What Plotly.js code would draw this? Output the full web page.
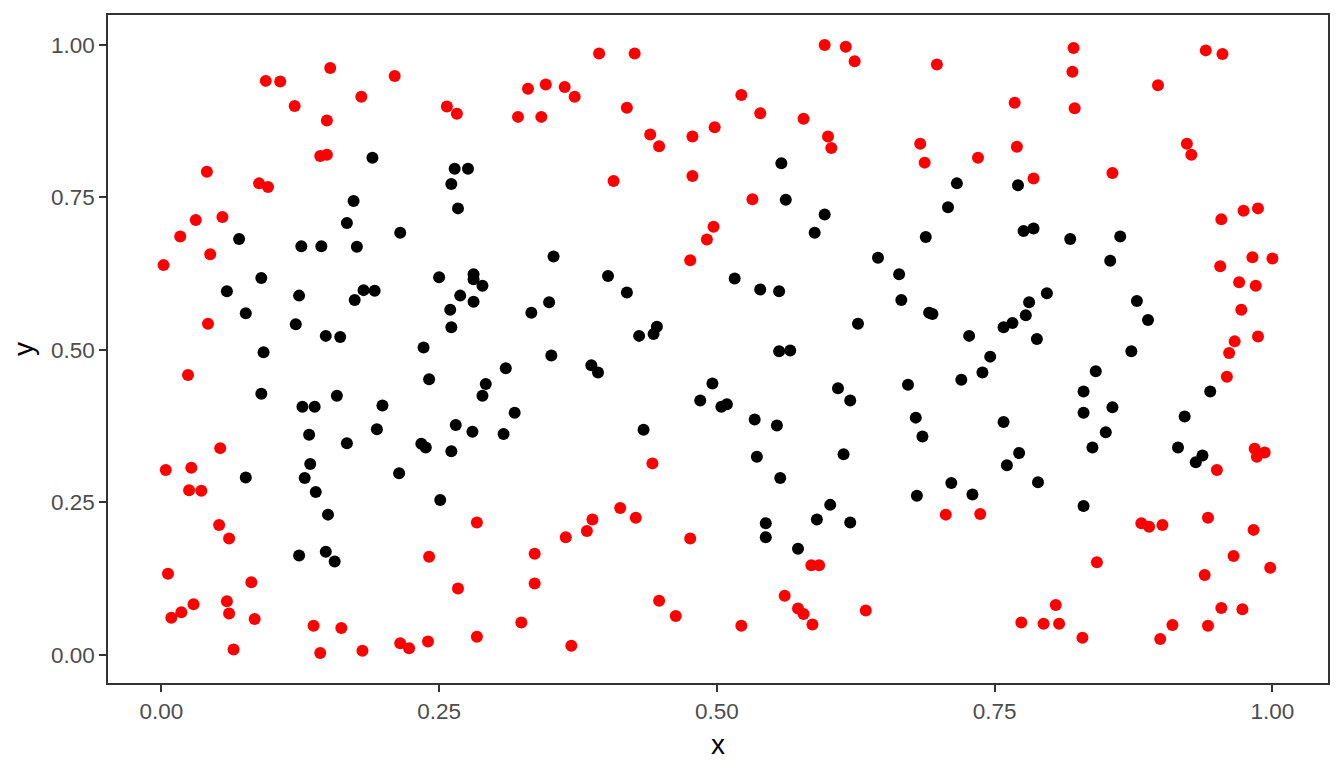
<!DOCTYPE html>
<html>
<head>
<meta charset="utf-8">
<script src="https://cdn.plot.ly/plotly-3.0.1.min.js"></script>
<style>
  html, body { margin: 0; padding: 0; background: #fff; }
  #chart { width: 1344px; height: 768px; }
</style>
</head>
<body>
<div id="chart"></div>
<script>
// points inside the region (black)
const insideX = [
  0.190, 0.173, 0.167, 0.215, 0.070, 0.126, 0.144, 0.176, 0.250, 0.090,
  0.059, 0.124, 0.182, 0.192, 0.174, 0.076, 0.121, 0.148, 0.161, 0.236,
  0.092, 0.241, 0.090, 0.127, 0.138, 0.158, 0.199, 0.133, 0.194, 0.167,
  0.234, 0.238, 0.134, 0.076, 0.129, 0.139, 0.214, 0.251, 0.150, 0.124,
  0.148, 0.156, 0.264, 0.276, 0.261, 0.267, 0.353, 0.281, 0.281, 0.289,
  0.269, 0.281, 0.260, 0.261, 0.402, 0.419, 0.349, 0.333, 0.430, 0.443,
  0.446, 0.351, 0.387, 0.393, 0.310, 0.292, 0.289, 0.318, 0.265, 0.280,
  0.308, 0.261, 0.434, 0.496, 0.485, 0.504, 0.509, 0.558, 0.562, 0.597,
  0.588, 0.716, 0.771, 0.708, 0.688, 0.776, 0.785, 0.645, 0.664, 0.516,
  0.539, 0.556, 0.666, 0.691, 0.694, 0.627, 0.727, 0.758, 0.766, 0.778,
  0.746, 0.556, 0.566, 0.739, 0.720, 0.672, 0.609, 0.620, 0.534, 0.554,
  0.679, 0.685, 0.758, 0.772, 0.761, 0.536, 0.614, 0.557, 0.711, 0.730,
  0.680, 0.602, 0.590, 0.620, 0.544, 0.544, 0.573, 0.818, 0.863, 0.854,
  0.797, 0.781, 0.788, 0.878, 0.888, 0.873, 0.841, 0.830, 0.830, 0.856,
  0.850, 0.838, 0.789, 0.830, 0.944, 0.921, 0.915, 0.931, 0.937
];
const insideY = [
  0.815, 0.744, 0.708, 0.692, 0.682, 0.670, 0.670, 0.669, 0.619, 0.618,
  0.596, 0.589, 0.598, 0.597, 0.582, 0.560, 0.542, 0.523, 0.521, 0.504,
  0.496, 0.452, 0.428, 0.407, 0.407, 0.425, 0.409, 0.361, 0.370, 0.347,
  0.346, 0.340, 0.313, 0.291, 0.290, 0.267, 0.298, 0.254, 0.230, 0.163,
  0.169, 0.153, 0.797, 0.797, 0.772, 0.732, 0.653, 0.624, 0.616, 0.605,
  0.589, 0.579, 0.566, 0.537, 0.621, 0.594, 0.578, 0.561, 0.523, 0.526,
  0.538, 0.491, 0.475, 0.463, 0.470, 0.444, 0.425, 0.397, 0.377, 0.366,
  0.362, 0.334, 0.369, 0.445, 0.417, 0.407, 0.411, 0.806, 0.746, 0.722,
  0.692, 0.773, 0.770, 0.734, 0.685, 0.695, 0.699, 0.651, 0.624, 0.617,
  0.599, 0.596, 0.582, 0.561, 0.559, 0.543, 0.523, 0.537, 0.544, 0.557,
  0.489, 0.498, 0.499, 0.463, 0.451, 0.443, 0.437, 0.417, 0.386, 0.376,
  0.389, 0.358, 0.382, 0.331, 0.311, 0.325, 0.329, 0.290, 0.282, 0.263,
  0.261, 0.246, 0.222, 0.217, 0.216, 0.193, 0.174, 0.682, 0.686, 0.646,
  0.593, 0.578, 0.518, 0.580, 0.549, 0.498, 0.465, 0.432, 0.397, 0.406,
  0.365, 0.340, 0.283, 0.244, 0.432, 0.391, 0.340, 0.316, 0.327
];

// points outside the region (red)
const outsideX = [
  0.094, 0.107, 0.152, 0.210, 0.180, 0.120, 0.149, 0.143, 0.149, 0.041,
  0.088, 0.096, 0.031, 0.055, 0.017, 0.044, 0.002, 0.042, 0.024, 0.053,
  0.004, 0.027, 0.025, 0.036, 0.052, 0.061, 0.241, 0.006, 0.081, 0.029,
  0.018, 0.009, 0.059, 0.061, 0.084, 0.137, 0.162, 0.065, 0.143, 0.181,
  0.215, 0.223, 0.240, 0.394, 0.426, 0.330, 0.346, 0.363, 0.372, 0.257,
  0.266, 0.321, 0.342, 0.419, 0.440, 0.448, 0.478, 0.498, 0.407, 0.478,
  0.497, 0.491, 0.476, 0.442, 0.284, 0.413, 0.427, 0.388, 0.383, 0.364,
  0.476, 0.336, 0.336, 0.267, 0.448, 0.463, 0.324, 0.284, 0.369, 0.597,
  0.616, 0.624, 0.698, 0.522, 0.539, 0.578, 0.600, 0.603, 0.768, 0.683,
  0.687, 0.735, 0.770, 0.532, 0.706, 0.737, 0.585, 0.592, 0.561, 0.573,
  0.578, 0.522, 0.586, 0.634, 0.774, 0.821, 0.820, 0.822, 0.785, 0.940,
  0.955, 0.897, 0.923, 0.927, 0.856, 0.954, 0.974, 0.987, 0.953, 0.982,
  1.000, 0.970, 0.985, 0.972, 0.966, 0.987, 0.961, 0.959, 0.984, 0.993,
  0.986, 0.950, 0.942, 0.983, 0.882, 0.889, 0.901, 0.842, 0.965, 0.998,
  0.939, 0.805, 0.794, 0.808, 0.829, 0.910, 0.899, 0.942, 0.954, 0.973
];
const outsideY = [
  0.941, 0.940, 0.962, 0.949, 0.915, 0.900, 0.876, 0.818, 0.820, 0.792,
  0.773, 0.767, 0.713, 0.718, 0.686, 0.657, 0.639, 0.543, 0.459, 0.339,
  0.303, 0.307, 0.270, 0.269, 0.213, 0.191, 0.161, 0.133, 0.119, 0.083,
  0.070, 0.061, 0.088, 0.068, 0.059, 0.048, 0.044, 0.009, 0.003, 0.007,
  0.019, 0.011, 0.022, 0.986, 0.986, 0.928, 0.935, 0.931, 0.915, 0.899,
  0.887, 0.882, 0.882, 0.897, 0.853, 0.834, 0.850, 0.865, 0.777, 0.785,
  0.702, 0.681, 0.647, 0.314, 0.217, 0.241, 0.225, 0.222, 0.203, 0.193,
  0.191, 0.166, 0.117, 0.109, 0.089, 0.064, 0.053, 0.030, 0.015, 1.000,
  0.997, 0.973, 0.968, 0.918, 0.888, 0.879, 0.850, 0.831, 0.905, 0.838,
  0.807, 0.815, 0.833, 0.747, 0.230, 0.231, 0.147, 0.147, 0.097, 0.076,
  0.067, 0.048, 0.050, 0.073, 0.053, 0.995, 0.956, 0.896, 0.781, 0.991,
  0.985, 0.934, 0.838, 0.820, 0.790, 0.714, 0.728, 0.732, 0.637, 0.652,
  0.650, 0.611, 0.605, 0.566, 0.514, 0.522, 0.495, 0.456, 0.338, 0.332,
  0.325, 0.303, 0.225, 0.205, 0.216, 0.210, 0.213, 0.152, 0.162, 0.143,
  0.131, 0.082, 0.051, 0.051, 0.028, 0.049, 0.026, 0.048, 0.077, 0.075
];

const tickVals = [0, 0.25, 0.5, 0.75, 1];
const tickText = ['0.00', '0.25', '0.50', '0.75', '1.00'];

const dot = { size: 12, line: { width: 0 } };

const traces = [
  {
    x: insideX, y: insideY, type: 'scatter', mode: 'markers',
    marker: Object.assign({ color: '#000000' }, dot),
    hoverinfo: 'x+y'
  },
  {
    x: outsideX, y: outsideY, type: 'scatter', mode: 'markers',
    marker: Object.assign({ color: '#FF0000' }, dot),
    hoverinfo: 'x+y'
  }
];

function axis(title, range, standoff) {
  return {
    title: { text: title, font: { size: 28, color: '#000000' }, standoff: standoff },
    range: range,
    tickvals: tickVals,
    ticktext: tickText,
    ticks: 'outside',
    ticklen: 7,
    tickwidth: 2,
    tickcolor: '#333333',
    tickfont: { size: 22.5, color: '#4D4D4D' },
    showgrid: false,
    zeroline: false,
    showline: true,
    mirror: true,
    linecolor: '#333333',
    linewidth: 1.6
  };
}

const layout = {
  width: 1344,
  height: 768,
  font: { family: '"Liberation Sans", Arial, sans-serif' },
  paper_bgcolor: '#ffffff',
  plot_bgcolor: '#ffffff',
  showlegend: false,
  margin: { l: 108, r: 16, t: 15, b: 85 },
  xaxis: axis('x', [-0.048, 1.050], 12),
  yaxis: axis('y', [-0.046, 1.049], 9)
};

Plotly.newPlot('chart', traces, layout, { displayModeBar: false, staticPlot: true });
</script>
</body>
</html>
